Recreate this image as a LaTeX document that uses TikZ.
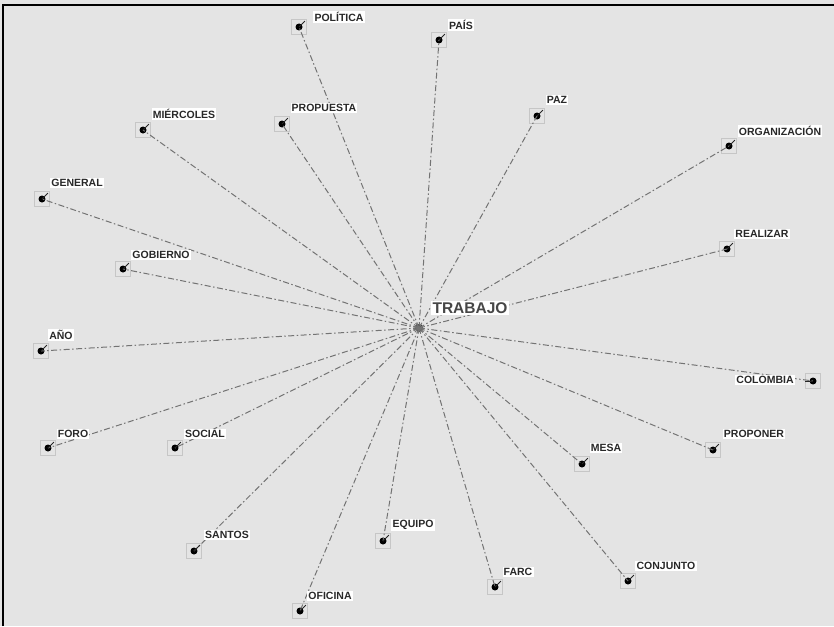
\documentclass[tikz,border=0pt]{standalone}
\usepackage{fontspec}
\setmainfont{Liberation Sans}
\usetikzlibrary{calc}
\definecolor{canvas}{RGB}{228,228,228}
\definecolor{wire}{RGB}{115,115,115}
\definecolor{ink}{RGB}{40,40,40}

\begin{document}
\begin{tikzpicture}[x=1pt, y=-1pt,
    leaf/.style={draw=gray!45, line width=0.7pt, minimum size=15pt, inner sep=0pt,
        path picture={\fill[black] (path picture bounding box.center) circle (3.5pt);}},
    link/.style={wire, line width=1pt, dash pattern=on 6pt off 2.5pt on 1.5pt off 2.5pt},
    stub/.style={gray!30!black, line width=0.8pt},
    word/.style={fill=white, inner sep=1.2pt, text=ink,
        font=\fontsize{10.5}{11}\selectfont\bfseries},
    hubword/.style={fill=white, inner sep=1.5pt, text=gray!55!black,
        font=\fontsize{15.5}{16}\selectfont\bfseries},
]
    % canvas and frame
    \fill[canvas] (0,0) rectangle (834,626);
    \useasboundingbox (0,0) rectangle (834,626);
    \draw[line width=1.4pt] (3,626) -- (3,5) -- (834,5);

    % the centre
    \node[circle, fill=gray!45!black, minimum size=8pt, inner sep=0pt] (hub) at (419,328) {};

    % the words round it
    \node[leaf] (politica) at (299,27) {};
    \node[leaf] (pais) at (439,40) {};
    \node[leaf] (propuesta) at (282,124) {};
    \node[leaf] (miercoles) at (143,130) {};
    \node[leaf] (paz) at (537,116) {};
    \node[leaf] (organizacion) at (729,146) {};
    \node[leaf] (general) at (42,199) {};
    \node[leaf] (realizar) at (727,249) {};
    \node[leaf] (gobierno) at (123,269) {};
    \node[leaf] (anio) at (41,351) {};
    \node[leaf] (colombia) at (813,381) {};
    \node[leaf] (foro) at (48,448) {};
    \node[leaf] (social) at (175,448) {};
    \node[leaf] (mesa) at (582,464) {};
    \node[leaf] (proponer) at (713,450) {};
    \node[leaf] (santos) at (194,551) {};
    \node[leaf] (equipo) at (383,541) {};
    \node[leaf] (farc) at (495,587) {};
    \node[leaf] (conjunto) at (628,581) {};
    \node[leaf] (oficina) at (300,611) {};

    % links to the centre
    \foreach \w in {politica,pais,propuesta,miercoles,paz,organizacion,general,
        realizar,gobierno,anio,colombia,foro,social,mesa,proponer,santos,
        equipo,farc,conjunto,oficina}
        \draw[link] (hub.center) -- (\w.center);

    % short ticks towards the labels
    \foreach \w in {politica,pais,propuesta,miercoles,paz,organizacion,general,
        realizar,gobierno,anio,foro,social,mesa,proponer,santos,
        equipo,farc,conjunto,oficina}
        \draw[stub] (\w.center) -- ($(\w.center)!0.75!(\w.north east)$);
    \draw[stub] (colombia.center) -- (colombia.west);

    % labels
    \node[hubword] (trabajo) at (470,308) {TRABAJO};
    \node[word] (politica-l) at (339,17) {POLÍTICA};
    \node[word] (pais-l) at (461,25) {PAÍS};
    \node[word] (propuesta-l) at (324,108) {PROPUESTA};
    \node[word] (miercoles-l) at (184,114) {MIÉRCOLES};
    \node[word] (paz-l) at (557,100) {PAZ};
    \node[word] (organizacion-l) at (780,131) {ORGANIZACIÓN};
    \node[word] (general-l) at (77,183) {GENERAL};
    \node[word] (realizar-l) at (762,234) {REALIZAR};
    \node[word] (gobierno-l) at (161,255) {GOBIERNO};
    \node[word] (anio-l) at (61,335) {AÑO};
    \node[word] (colombia-l) at (765,380) {COLOMBIA};
    \node[word] (foro-l) at (73,434) {FORO};
    \node[word] (social-l) at (205,434) {SOCIAL};
    \node[word] (mesa-l) at (606,448) {MESA};
    \node[word] (proponer-l) at (754,434) {PROPONER};
    \node[word] (santos-l) at (227,535) {SANTOS};
    \node[word] (equipo-l) at (413,525) {EQUIPO};
    \node[word] (farc-l) at (518,572) {FARC};
    \node[word] (conjunto-l) at (666,566) {CONJUNTO};
    \node[word] (oficina-l) at (330,596) {OFICINA};
\end{tikzpicture}
\end{document}
